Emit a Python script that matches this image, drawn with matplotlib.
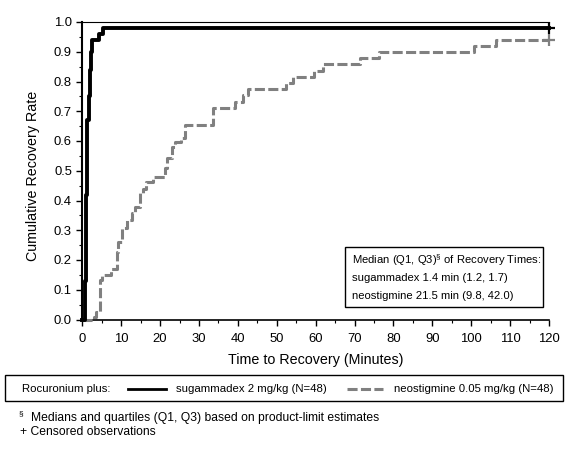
import matplotlib
matplotlib.use('Agg')
import matplotlib.pyplot as plt
from matplotlib.patches import Rectangle
from matplotlib.lines import Line2D
from matplotlib.ticker import MultipleLocator

plt.rcParams['font.family'] = ['Liberation Sans', 'DejaVu Sans']
plt.rcParams['mathtext.fontset'] = 'custom'
plt.rcParams['mathtext.rm'] = 'Liberation Sans'

# Kaplan-Meier style step data (minutes, cumulative rate)
sug_time = [0, 0.6, 1.0, 1.3, 1.6, 1.9, 2.2, 2.5, 4.2, 5.2, 120]
sug_rate = [0, 0.13, 0.42, 0.67, 0.75, 0.84, 0.90, 0.94, 0.96, 0.98, 0.98]

neo_time = [0, 3.1, 3.6, 4.55, 5.1, 7.5, 8.8, 9.3, 10.1, 11.4, 12.7, 13.5,
            14.8, 15.7, 16.5, 18.3, 21.3, 21.9, 23.0, 23.8, 25.5, 26.4,
            33.5, 39.3, 41.2, 42.7, 52.4, 54.1, 59.6, 61.8, 71.4, 76.4,
            100.8, 106.5, 120]
neo_rate = [0, 0.01, 0.026, 0.133, 0.15, 0.17, 0.228, 0.26, 0.307, 0.334,
            0.357, 0.379, 0.424, 0.44, 0.463, 0.48, 0.508, 0.542, 0.58,
            0.598, 0.609, 0.654, 0.71, 0.732, 0.755, 0.774, 0.794, 0.814,
            0.836, 0.858, 0.878, 0.90, 0.918, 0.94, 0.94]

# censored observations
sug_cens = ([120], [0.98])
neo_cens = ([120], [0.94])

gray = '#808080'

fig = plt.figure(figsize=(5.82, 4.5), dpi=100)
ax = fig.add_axes([82.3 / 582, 1 - 319.5 / 450, 466.7 / 582, 297.5 / 450])

ax.step(neo_time, neo_rate, where='post', color=gray, lw=2.2,
        dashes=(3.3, 1.1), clip_on=False, zorder=3)
ax.plot(*neo_cens, '+', color=gray, ms=9, mew=1.6, clip_on=False, zorder=3)
ax.step(sug_time, sug_rate, where='post', color='black', lw=2.8,
        clip_on=False, zorder=4)
ax.plot(*sug_cens, '+', color='black', ms=9, mew=1.6, clip_on=False, zorder=4)

ax.set_xlim(0, 120)
ax.set_ylim(0, 1.0)
ax.xaxis.set_major_locator(MultipleLocator(10))
ax.xaxis.set_minor_locator(MultipleLocator(5))
ax.yaxis.set_major_locator(MultipleLocator(0.1))
ax.yaxis.set_minor_locator(MultipleLocator(0.05))
ax.yaxis.set_major_formatter(plt.FuncFormatter(lambda v, p: f'{v:.1f}'))

ax.spines['right'].set_visible(False)
ax.spines['top'].set_linewidth(0.8)
ax.spines['left'].set_linewidth(1.5)
ax.spines['bottom'].set_linewidth(1.2)
ax.tick_params(which='major', direction='out', length=4.5, width=1,
               labelsize=9.4, pad=3)
ax.tick_params(which='minor', direction='out', length=2.5, width=0.8)
ax.tick_params(axis='x', pad=5.5)

ax.set_xlabel('Time to Recovery (Minutes)', fontsize=10.3)
ax.set_ylabel('Cumulative Recovery Rate', fontsize=10.3)
ax.xaxis.set_label_coords(0.5, -0.1126)
ax.yaxis.set_label_coords(-0.09, 0.483)


def axfrac(px, py):
    return (px - 82.3) / 466.7, (319.5 - py) / 297.5


# median box
bx0, by0 = axfrac(345, 307)
bx1, by1 = axfrac(543.3, 247.3)
ax.add_patch(Rectangle((bx0, by0), bx1 - bx0, by1 - by0, transform=ax.transAxes,
                       fill=False, edgecolor='black', lw=1, zorder=5))
box_lines = ['Median (Q1, Q3)$^{§}$ of Recovery Times:',
             'sugammadex 1.4 min (1.2, 1.7)',
             'neostigmine 21.5 min (9.8, 42.0)']
for py, txt in zip([260, 278, 296], box_lines):
    tx, ty = axfrac(351.7, py)
    ax.text(tx, ty, txt, transform=ax.transAxes, fontsize=8.1, va='center',
            ha='left', zorder=6)


# legend box below the axes
def ff(px, py):
    return px / 582, 1 - py / 450


lx0, ly0 = ff(5, 401)
lx1, ly1 = ff(563, 375)
fig.patches.append(Rectangle((lx0, ly0), lx1 - lx0, ly1 - ly0,
                             transform=fig.transFigure, fill=False,
                             edgecolor='black', lw=1))
yc = ff(0, 389)[1]
fig.text(ff(21.7, 0)[0], yc, 'Rocuronium plus:', fontsize=8.2, va='center')
fig.lines.append(Line2D([ff(128, 0)[0], ff(166, 0)[0]], [yc, yc],
                        transform=fig.transFigure, color='black', lw=2))
fig.text(ff(176, 0)[0], yc, 'sugammadex 2 mg/kg (N=48)', fontsize=8.2,
         va='center')
fig.lines.append(Line2D([ff(347, 0)[0], ff(383, 0)[0]], [yc, yc],
                        transform=fig.transFigure, color=gray, lw=2.2,
                        dashes=(3.3, 1.1)))
fig.text(ff(394, 0)[0], yc, 'neostigmine 0.05 mg/kg (N=48)', fontsize=8.2,
         va='center')

# footnotes
fig.text(ff(19, 0)[0], ff(0, 414)[1], '§', fontsize=6, va='center')
fig.text(ff(30.7, 0)[0], ff(0, 418)[1],
         'Medians and quartiles (Q1, Q3) based on product-limit estimates',
         fontsize=8.7, va='center')
fig.text(ff(20, 0)[0], ff(0, 432)[1], '+ Censored observations', fontsize=8.7,
         va='center')

fig.savefig('out.png', dpi=100)
